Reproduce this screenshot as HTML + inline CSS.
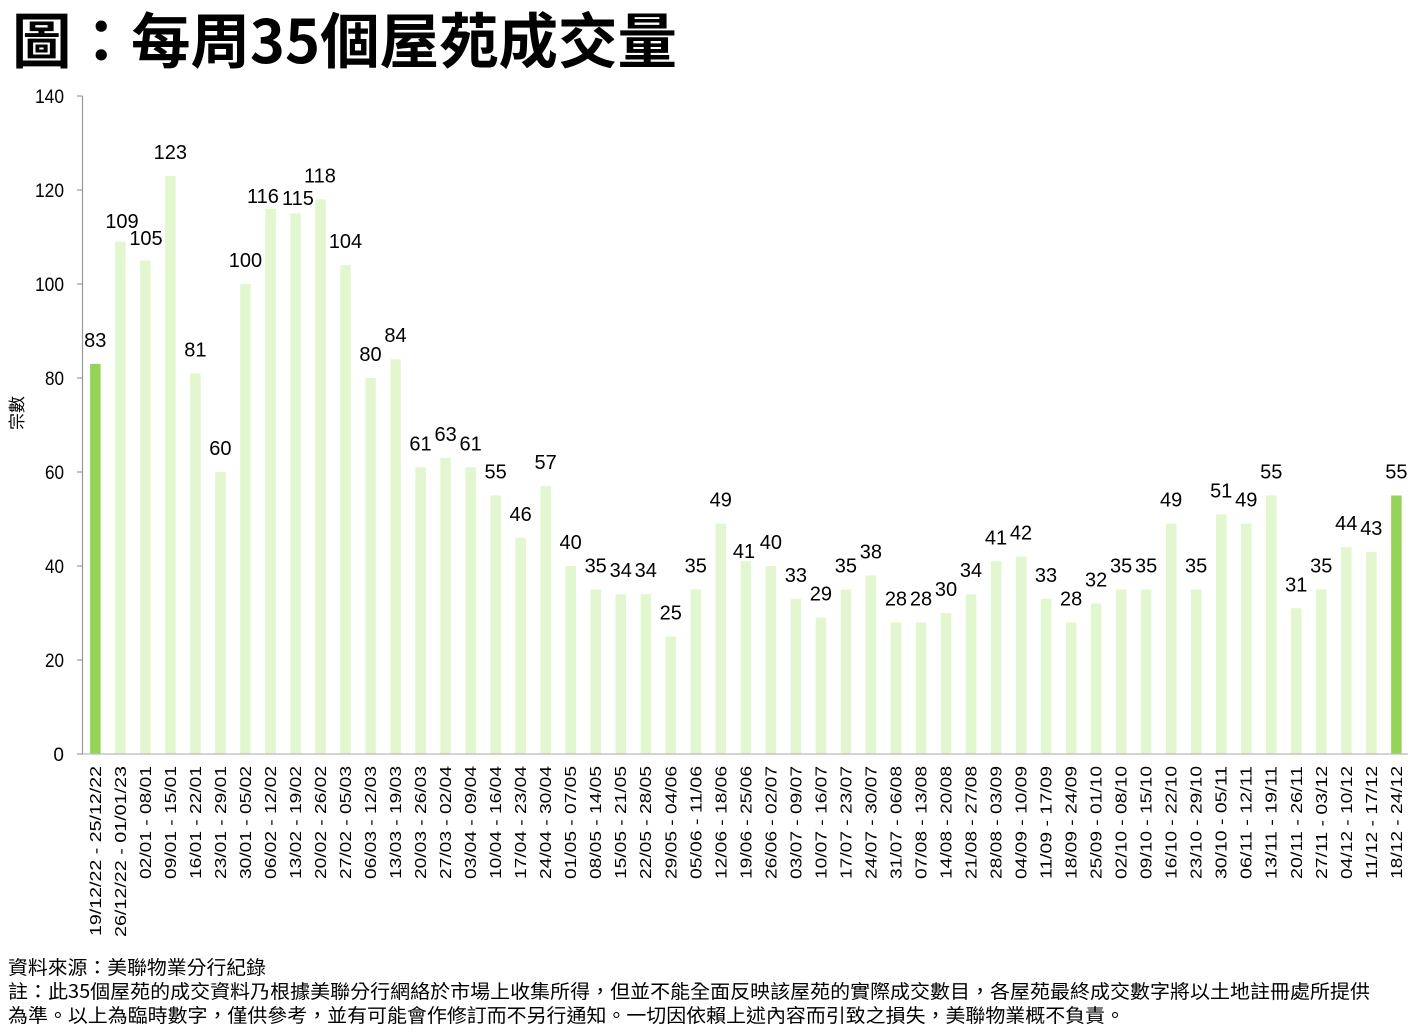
<!DOCTYPE html>
<html>
<head>
<meta charset="utf-8">
<style>
html,body{margin:0;padding:0;background:#fff;}
svg{display:block;}
text{font-family:"Liberation Sans","Noto Sans CJK TC",sans-serif;fill:#000;}
.cj{font-family:"Noto Sans CJK TC","Liberation Sans",sans-serif;}
.dl{font-size:20px;text-anchor:middle;}
.yt{font-size:19px;text-anchor:end;}
.xl{font-size:16px;text-anchor:end;}
.lb{fill:#e2f6cf;}
.dk{fill:#95d458;}
</style>
</head>
<body>
<svg width="1420" height="1033" viewBox="0 0 1420 1033" xmlns="http://www.w3.org/2000/svg">
<rect x="0" y="0" width="1420" height="1033" fill="#fff"/>
<!-- Title -->
<text class="cj" x="12" y="63" font-size="60" font-weight="bold" textLength="665" lengthAdjust="spacingAndGlyphs">圖：每周35個屋苑成交量</text>

<!-- Y axis title -->
<text class="cj" transform="translate(23,413) rotate(-90)" font-size="17" text-anchor="middle">宗數</text>

<!-- Y ticks labels -->
<text class="yt" x="64" y="761" textLength="9">0</text>
<text class="yt" x="64" y="667" textLength="19" lengthAdjust="spacingAndGlyphs">20</text>
<text class="yt" x="64" y="573" textLength="19" lengthAdjust="spacingAndGlyphs">40</text>
<text class="yt" x="64" y="479" textLength="19" lengthAdjust="spacingAndGlyphs">60</text>
<text class="yt" x="64" y="385" textLength="19" lengthAdjust="spacingAndGlyphs">80</text>
<text class="yt" x="64" y="291" textLength="29" lengthAdjust="spacingAndGlyphs">100</text>
<text class="yt" x="64" y="197" textLength="29" lengthAdjust="spacingAndGlyphs">120</text>
<text class="yt" x="64" y="103" textLength="29" lengthAdjust="spacingAndGlyphs">140</text>

<!-- Bars -->
<g>
<rect class="dk" x="90.1" y="363.9" width="10.5" height="390.1"/>
<rect class="lb" x="115.12" y="241.7" width="10.5" height="512.3"/>
<rect class="lb" x="140.14" y="260.5" width="10.5" height="493.5"/>
<rect class="lb" x="165.16" y="175.9" width="10.5" height="578.1"/>
<rect class="lb" x="190.18" y="373.3" width="10.5" height="380.7"/>
<rect class="lb" x="215.2" y="472" width="10.5" height="282"/>
<rect class="lb" x="240.22" y="284" width="10.5" height="470"/>
<rect class="lb" x="265.24" y="208.8" width="10.5" height="545.2"/>
<rect class="lb" x="290.26" y="213.5" width="10.5" height="540.5"/>
<rect class="lb" x="315.28" y="199.4" width="10.5" height="554.6"/>
<rect class="lb" x="340.3" y="265.2" width="10.5" height="488.8"/>
<rect class="lb" x="365.32" y="378" width="10.5" height="376"/>
<rect class="lb" x="390.34" y="359.2" width="10.5" height="394.8"/>
<rect class="lb" x="415.36" y="467.3" width="10.5" height="286.7"/>
<rect class="lb" x="440.38" y="457.9" width="10.5" height="296.1"/>
<rect class="lb" x="465.4" y="467.3" width="10.5" height="286.7"/>
<rect class="lb" x="490.42" y="495.5" width="10.5" height="258.5"/>
<rect class="lb" x="515.44" y="537.8" width="10.5" height="216.2"/>
<rect class="lb" x="540.46" y="486.1" width="10.5" height="267.9"/>
<rect class="lb" x="565.48" y="566" width="10.5" height="188"/>
<rect class="lb" x="590.5" y="589.5" width="10.5" height="164.5"/>
<rect class="lb" x="615.52" y="594.2" width="10.5" height="159.8"/>
<rect class="lb" x="640.54" y="594.2" width="10.5" height="159.8"/>
<rect class="lb" x="665.56" y="636.5" width="10.5" height="117.5"/>
<rect class="lb" x="690.58" y="589.5" width="10.5" height="164.5"/>
<rect class="lb" x="715.6" y="523.7" width="10.5" height="230.3"/>
<rect class="lb" x="740.62" y="561.3" width="10.5" height="192.7"/>
<rect class="lb" x="765.64" y="566" width="10.5" height="188"/>
<rect class="lb" x="790.66" y="598.9" width="10.5" height="155.1"/>
<rect class="lb" x="815.68" y="617.7" width="10.5" height="136.3"/>
<rect class="lb" x="840.7" y="589.5" width="10.5" height="164.5"/>
<rect class="lb" x="865.72" y="575.4" width="10.5" height="178.6"/>
<rect class="lb" x="890.74" y="622.4" width="10.5" height="131.6"/>
<rect class="lb" x="915.76" y="622.4" width="10.5" height="131.6"/>
<rect class="lb" x="940.78" y="613" width="10.5" height="141"/>
<rect class="lb" x="965.8" y="594.2" width="10.5" height="159.8"/>
<rect class="lb" x="990.82" y="561.3" width="10.5" height="192.7"/>
<rect class="lb" x="1015.84" y="556.6" width="10.5" height="197.4"/>
<rect class="lb" x="1040.86" y="598.9" width="10.5" height="155.1"/>
<rect class="lb" x="1065.88" y="622.4" width="10.5" height="131.6"/>
<rect class="lb" x="1090.9" y="603.6" width="10.5" height="150.4"/>
<rect class="lb" x="1115.92" y="589.5" width="10.5" height="164.5"/>
<rect class="lb" x="1140.94" y="589.5" width="10.5" height="164.5"/>
<rect class="lb" x="1165.96" y="523.7" width="10.5" height="230.3"/>
<rect class="lb" x="1190.98" y="589.5" width="10.5" height="164.5"/>
<rect class="lb" x="1216.0" y="514.3" width="10.5" height="239.7"/>
<rect class="lb" x="1241.02" y="523.7" width="10.5" height="230.3"/>
<rect class="lb" x="1266.04" y="495.5" width="10.5" height="258.5"/>
<rect class="lb" x="1291.06" y="608.3" width="10.5" height="145.7"/>
<rect class="lb" x="1316.08" y="589.5" width="10.5" height="164.5"/>
<rect class="lb" x="1341.1" y="547.2" width="10.5" height="206.8"/>
<rect class="lb" x="1366.12" y="551.9" width="10.5" height="202.1"/>
<rect class="dk" x="1391.14" y="495.5" width="10.5" height="258.5"/>
</g>

<!-- Axes -->
<g stroke="#999" stroke-width="1.2" fill="none">
<line x1="82.5" y1="96" x2="82.5" y2="754"/>
<line x1="82" y1="754" x2="1408" y2="754" stroke="#bbb"/>
<line x1="77" y1="754" x2="82.5" y2="754"/>
<line x1="77" y1="660" x2="82.5" y2="660"/>
<line x1="77" y1="566" x2="82.5" y2="566"/>
<line x1="77" y1="472" x2="82.5" y2="472"/>
<line x1="77" y1="378" x2="82.5" y2="378"/>
<line x1="77" y1="284" x2="82.5" y2="284"/>
<line x1="77" y1="190" x2="82.5" y2="190"/>
<line x1="77" y1="96" x2="82.5" y2="96"/>
</g>

<!-- Data labels -->
<g>
<text class="dl" x="95.3" y="346.9">83</text>
<text class="dl" x="122" y="228">109</text>
<text class="dl" x="146" y="245">105</text>
<text class="dl" x="170.36" y="158.9">123</text>
<text class="dl" x="195.38" y="356.3">81</text>
<text class="dl" x="220.4" y="455">60</text>
<text class="dl" x="245.42" y="267">100</text>
<text class="dl" x="263" y="203">116</text>
<text class="dl" x="298" y="205">115</text>
<text class="dl" x="320" y="182.4">118</text>
<text class="dl" x="345.5" y="248.2">104</text>
<text class="dl" x="370.52" y="361">80</text>
<text class="dl" x="395.54" y="342.2">84</text>
<text class="dl" x="420.56" y="450.3">61</text>
<text class="dl" x="445.58" y="440.9">63</text>
<text class="dl" x="470.6" y="450.3">61</text>
<text class="dl" x="495.62" y="478.5">55</text>
<text class="dl" x="520.64" y="520.8">46</text>
<text class="dl" x="545.66" y="469.1">57</text>
<text class="dl" x="570.68" y="549">40</text>
<text class="dl" x="595.7" y="572.5">35</text>
<text class="dl" x="620.72" y="577.2">34</text>
<text class="dl" x="645.74" y="577.2">34</text>
<text class="dl" x="670.76" y="619.5">25</text>
<text class="dl" x="695.78" y="572.5">35</text>
<text class="dl" x="720.8" y="506.7">49</text>
<text class="dl" x="744" y="558">41</text>
<text class="dl" x="770.84" y="549">40</text>
<text class="dl" x="795.86" y="581.9">33</text>
<text class="dl" x="820.88" y="600.7">29</text>
<text class="dl" x="845.9" y="572.5">35</text>
<text class="dl" x="870.92" y="558.4">38</text>
<text class="dl" x="895.94" y="605.4">28</text>
<text class="dl" x="920.96" y="605.4">28</text>
<text class="dl" x="945.98" y="596">30</text>
<text class="dl" x="971.0" y="577.2">34</text>
<text class="dl" x="996.02" y="544.3">41</text>
<text class="dl" x="1021.04" y="539.6">42</text>
<text class="dl" x="1046.06" y="581.9">33</text>
<text class="dl" x="1071.08" y="605.4">28</text>
<text class="dl" x="1096.1" y="586.6">32</text>
<text class="dl" x="1121.12" y="572.5">35</text>
<text class="dl" x="1146.14" y="572.5">35</text>
<text class="dl" x="1171.16" y="506.7">49</text>
<text class="dl" x="1196.18" y="572.5">35</text>
<text class="dl" x="1221.2" y="497.3">51</text>
<text class="dl" x="1246.22" y="506.7">49</text>
<text class="dl" x="1271.24" y="478.5">55</text>
<text class="dl" x="1296.26" y="591.3">31</text>
<text class="dl" x="1321.28" y="572.5">35</text>
<text class="dl" x="1346.3" y="530.2">44</text>
<text class="dl" x="1371.32" y="534.9">43</text>
<text class="dl" x="1396.34" y="478.5">55</text>
</g>

<!-- X labels -->
<g>
<text class="xl" transform="translate(100.8,766) rotate(-90)" textLength="170" lengthAdjust="spacingAndGlyphs">19/12/22 - 25/12/22</text>
<text class="xl" transform="translate(125.8,766) rotate(-90)" textLength="171" lengthAdjust="spacingAndGlyphs">26/12/22 - 01/01/23</text>
<text class="xl" transform="translate(150.8,766) rotate(-90)" textLength="113" lengthAdjust="spacingAndGlyphs">02/01 - 08/01</text>
<text class="xl" transform="translate(175.9,766) rotate(-90)" textLength="113" lengthAdjust="spacingAndGlyphs">09/01 - 15/01</text>
<text class="xl" transform="translate(200.9,766) rotate(-90)" textLength="113" lengthAdjust="spacingAndGlyphs">16/01 - 22/01</text>
<text class="xl" transform="translate(225.9,766) rotate(-90)" textLength="113" lengthAdjust="spacingAndGlyphs">23/01 - 29/01</text>
<text class="xl" transform="translate(250.9,766) rotate(-90)" textLength="113" lengthAdjust="spacingAndGlyphs">30/01 - 05/02</text>
<text class="xl" transform="translate(275.9,766) rotate(-90)" textLength="113" lengthAdjust="spacingAndGlyphs">06/02 - 12/02</text>
<text class="xl" transform="translate(301.0,766) rotate(-90)" textLength="113" lengthAdjust="spacingAndGlyphs">13/02 - 19/02</text>
<text class="xl" transform="translate(326.0,766) rotate(-90)" textLength="113" lengthAdjust="spacingAndGlyphs">20/02 - 26/02</text>
<text class="xl" transform="translate(351.0,766) rotate(-90)" textLength="113" lengthAdjust="spacingAndGlyphs">27/02 - 05/03</text>
<text class="xl" transform="translate(376.0,766) rotate(-90)" textLength="113" lengthAdjust="spacingAndGlyphs">06/03 - 12/03</text>
<text class="xl" transform="translate(401.0,766) rotate(-90)" textLength="113" lengthAdjust="spacingAndGlyphs">13/03 - 19/03</text>
<text class="xl" transform="translate(426.1,766) rotate(-90)" textLength="113" lengthAdjust="spacingAndGlyphs">20/03 - 26/03</text>
<text class="xl" transform="translate(451.1,766) rotate(-90)" textLength="113" lengthAdjust="spacingAndGlyphs">27/03 - 02/04</text>
<text class="xl" transform="translate(476.1,766) rotate(-90)" textLength="113" lengthAdjust="spacingAndGlyphs">03/04 - 09/04</text>
<text class="xl" transform="translate(501.1,766) rotate(-90)" textLength="113" lengthAdjust="spacingAndGlyphs">10/04 - 16/04</text>
<text class="xl" transform="translate(526.1,766) rotate(-90)" textLength="113" lengthAdjust="spacingAndGlyphs">17/04 - 23/04</text>
<text class="xl" transform="translate(551.2,766) rotate(-90)" textLength="113" lengthAdjust="spacingAndGlyphs">24/04 - 30/04</text>
<text class="xl" transform="translate(576.2,766) rotate(-90)" textLength="113" lengthAdjust="spacingAndGlyphs">01/05 - 07/05</text>
<text class="xl" transform="translate(601.2,766) rotate(-90)" textLength="113" lengthAdjust="spacingAndGlyphs">08/05 - 14/05</text>
<text class="xl" transform="translate(626.2,766) rotate(-90)" textLength="113" lengthAdjust="spacingAndGlyphs">15/05 - 21/05</text>
<text class="xl" transform="translate(651.2,766) rotate(-90)" textLength="113" lengthAdjust="spacingAndGlyphs">22/05 - 28/05</text>
<text class="xl" transform="translate(676.3,766) rotate(-90)" textLength="113" lengthAdjust="spacingAndGlyphs">29/05 - 04/06</text>
<text class="xl" transform="translate(701.3,766) rotate(-90)" textLength="113" lengthAdjust="spacingAndGlyphs">05/06 - 11/06</text>
<text class="xl" transform="translate(726.3,766) rotate(-90)" textLength="113" lengthAdjust="spacingAndGlyphs">12/06 - 18/06</text>
<text class="xl" transform="translate(751.3,766) rotate(-90)" textLength="113" lengthAdjust="spacingAndGlyphs">19/06 - 25/06</text>
<text class="xl" transform="translate(776.3,766) rotate(-90)" textLength="113" lengthAdjust="spacingAndGlyphs">26/06 - 02/07</text>
<text class="xl" transform="translate(801.4,766) rotate(-90)" textLength="113" lengthAdjust="spacingAndGlyphs">03/07 - 09/07</text>
<text class="xl" transform="translate(826.4,766) rotate(-90)" textLength="113" lengthAdjust="spacingAndGlyphs">10/07 - 16/07</text>
<text class="xl" transform="translate(851.4,766) rotate(-90)" textLength="113" lengthAdjust="spacingAndGlyphs">17/07 - 23/07</text>
<text class="xl" transform="translate(876.4,766) rotate(-90)" textLength="113" lengthAdjust="spacingAndGlyphs">24/07 - 30/07</text>
<text class="xl" transform="translate(901.4,766) rotate(-90)" textLength="113" lengthAdjust="spacingAndGlyphs">31/07 - 06/08</text>
<text class="xl" transform="translate(926.5,766) rotate(-90)" textLength="113" lengthAdjust="spacingAndGlyphs">07/08 - 13/08</text>
<text class="xl" transform="translate(951.5,766) rotate(-90)" textLength="113" lengthAdjust="spacingAndGlyphs">14/08 - 20/08</text>
<text class="xl" transform="translate(976.5,766) rotate(-90)" textLength="113" lengthAdjust="spacingAndGlyphs">21/08 - 27/08</text>
<text class="xl" transform="translate(1001.5,766) rotate(-90)" textLength="113" lengthAdjust="spacingAndGlyphs">28/08 - 03/09</text>
<text class="xl" transform="translate(1026.5,766) rotate(-90)" textLength="113" lengthAdjust="spacingAndGlyphs">04/09 - 10/09</text>
<text class="xl" transform="translate(1051.6,766) rotate(-90)" textLength="113" lengthAdjust="spacingAndGlyphs">11/09 - 17/09</text>
<text class="xl" transform="translate(1076.6,766) rotate(-90)" textLength="113" lengthAdjust="spacingAndGlyphs">18/09 - 24/09</text>
<text class="xl" transform="translate(1101.6,766) rotate(-90)" textLength="113" lengthAdjust="spacingAndGlyphs">25/09 - 01/10</text>
<text class="xl" transform="translate(1126.6,766) rotate(-90)" textLength="113" lengthAdjust="spacingAndGlyphs">02/10 - 08/10</text>
<text class="xl" transform="translate(1151.6,766) rotate(-90)" textLength="113" lengthAdjust="spacingAndGlyphs">09/10 - 15/10</text>
<text class="xl" transform="translate(1176.7,766) rotate(-90)" textLength="113" lengthAdjust="spacingAndGlyphs">16/10 - 22/10</text>
<text class="xl" transform="translate(1201.7,766) rotate(-90)" textLength="113" lengthAdjust="spacingAndGlyphs">23/10 - 29/10</text>
<text class="xl" transform="translate(1226.7,766) rotate(-90)" textLength="113" lengthAdjust="spacingAndGlyphs">30/10 - 05/11</text>
<text class="xl" transform="translate(1251.7,766) rotate(-90)" textLength="113" lengthAdjust="spacingAndGlyphs">06/11 - 12/11</text>
<text class="xl" transform="translate(1276.7,766) rotate(-90)" textLength="113" lengthAdjust="spacingAndGlyphs">13/11 - 19/11</text>
<text class="xl" transform="translate(1301.8,766) rotate(-90)" textLength="113" lengthAdjust="spacingAndGlyphs">20/11 - 26/11</text>
<text class="xl" transform="translate(1326.8,766) rotate(-90)" textLength="113" lengthAdjust="spacingAndGlyphs">27/11 - 03/12</text>
<text class="xl" transform="translate(1351.8,766) rotate(-90)" textLength="113" lengthAdjust="spacingAndGlyphs">04/12 - 10/12</text>
<text class="xl" transform="translate(1376.8,766) rotate(-90)" textLength="113" lengthAdjust="spacingAndGlyphs">11/12 - 17/12</text>
<text class="xl" transform="translate(1401.8,766) rotate(-90)" textLength="113" lengthAdjust="spacingAndGlyphs">18/12 - 24/12</text>
</g>

<!-- Footnotes -->
<text class="cj" x="8" y="974" font-size="19" textLength="258" lengthAdjust="spacingAndGlyphs">資料來源：美聯物業分行紀錄</text>
<text class="cj" x="8" y="998" font-size="19" textLength="1362" lengthAdjust="spacingAndGlyphs">註：此35個屋苑的成交資料乃根據美聯分行網絡於市場上收集所得，但並不能全面反映該屋苑的實際成交數目，各屋苑最終成交數字將以土地註冊處所提供</text>
<text class="cj" x="8" y="1022" font-size="19" textLength="1117" lengthAdjust="spacingAndGlyphs">為準。以上為臨時數字，僅供參考，並有可能會作修訂而不另行通知。一切因依賴上述內容而引致之損失，美聯物業概不負責。</text>
</svg>
</body>
</html>
